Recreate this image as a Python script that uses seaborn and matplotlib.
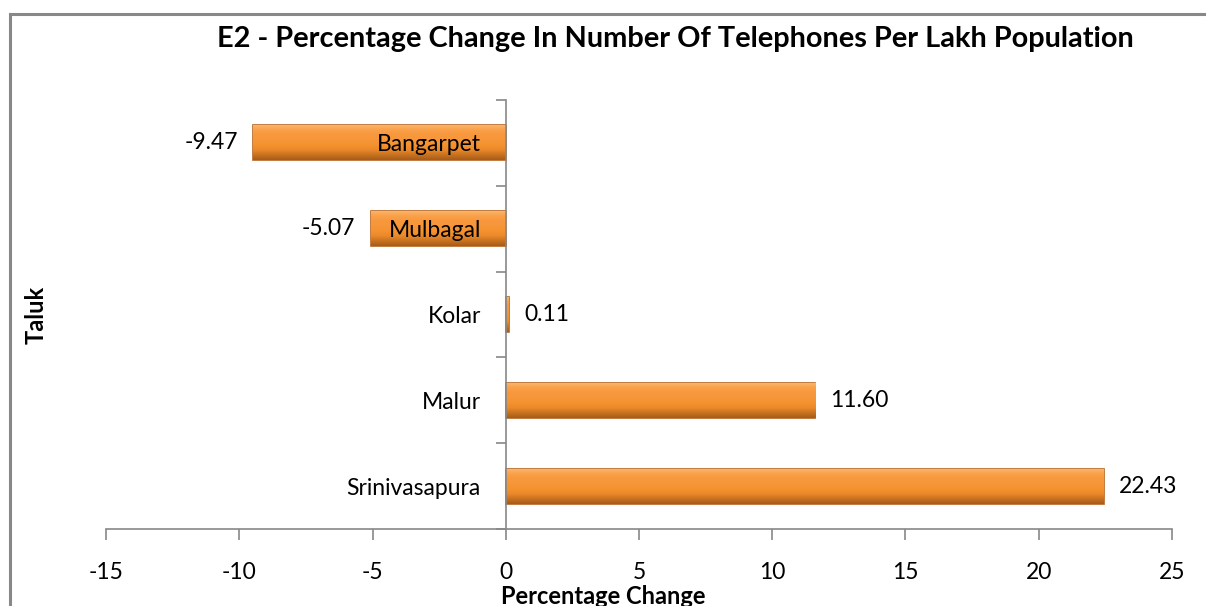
import matplotlib
matplotlib.use("Agg")
import numpy as np
import matplotlib.pyplot as plt
import seaborn as sns
import pandas as pd
from matplotlib.patches import Rectangle
from matplotlib.colors import LinearSegmentedColormap
from matplotlib.ticker import FixedLocator

taluks = ["Bangarpet", "Mulbagal", "Kolar", "Malur", "Srinivasapura"]
change = [-9.47, -5.07, 0.11, 11.60, 22.43]
x_ticks = [-15, -10, -5, 0, 5, 10, 15, 20, 25]

df = pd.DataFrame({"Taluk": taluks, "Change": change})

sns.set_style("white", {"text.color": "black", "xtick.color": "black",
                        "ytick.color": "black", "axes.axisbelow": False})
plt.rcParams["font.family"] = ["Lato", "DejaVu Sans"]

fig = plt.figure(figsize=(12.06, 6.06), dpi=100)
ax = fig.add_axes([0.0879, 0.127, 0.8839, 0.708])
ax.set_axisbelow(False)

sns.barplot(data=df, x="Change", y="Taluk", orient="h", ax=ax,
            color="#F7963A", edgecolor="#B8661E", linewidth=1.2,
            width=0.41, saturation=1)

for c in ax.containers:
    ax.bar_label(c, fmt="%.2f", padding=11, fontsize=16.5, color="black")

ax.set_xlim(-15, 25)
ax.set_ylim(4.5, -0.5)

# orange gradient fill to imitate the bevelled bars
grad = LinearSegmentedColormap.from_list(
    "bar", ["#FBB870", "#F9A24C", "#F8983C", "#F7963A", "#F5932F",
            "#EC8A2C", "#C9731F", "#A85C1A"])
for p in ax.patches:
    x0, y0 = p.get_x(), p.get_y()
    w, h = p.get_width(), p.get_height()
    im = ax.imshow(np.linspace(0, 1, 64).reshape(-1, 1), cmap=grad,
                   extent=[x0, x0 + w, y0 + h, y0], aspect="auto",
                   origin="upper", zorder=p.get_zorder() + 0.1)
    im.set_clip_path(p)
ax.set_xlim(-15, 25)
ax.set_ylim(4.5, -0.5)
ax.set_aspect("auto")

ax.set_xticks(x_ticks)
ax.set_xticklabels([str(t) for t in x_ticks], fontsize=16.5)

# y axis sits at x = 0, labels next to it, ticks between categories
ax.spines["left"].set_position(("data", 0))
for s in ["top", "right"]:
    ax.spines[s].set_visible(False)
for s in ["left", "bottom"]:
    ax.spines[s].set_color("#888888")
    ax.spines[s].set_linewidth(1.2)

ax.yaxis.set_major_locator(FixedLocator([-0.5, 0.5, 1.5, 2.5, 3.5, 4.5]))
ax.yaxis.set_minor_locator(FixedLocator(range(len(taluks))))
ax.set_yticklabels([""] * 6)
ax.set_yticklabels(taluks, minor=True, fontsize=16.5)
ax.tick_params(axis="y", which="major", left=True, direction="out", length=7,
               color="#888888", width=1.2)
ax.tick_params(axis="y", which="minor", left=True, length=0, pad=18,
               labelcolor="black")
ax.tick_params(axis="x", bottom=True, direction="out", length=8, color="#888888",
               width=1.2, pad=16, labelcolor="black")
ax.yaxis.set_zorder(5)

ax.set_xlabel("")
ax.set_ylabel("")
fig.text(0.5, 0.016, "Percentage Change", ha="center", va="center",
         fontsize=17, fontweight="bold")
fig.text(0.03, 0.48, "Taluk", ha="center", va="center", rotation=90,
         fontsize=17, fontweight="bold")
fig.text(0.56, 0.935, "E2 - Percentage Change In Number Of Telephones Per Lakh Population",
         ha="center", va="center", fontsize=20.8, fontweight="bold")

fig.patches.append(Rectangle((0.0083, -0.05), 1.05, 1.027, transform=fig.transFigure,
                             fill=False, edgecolor="#888888", linewidth=2.2))

fig.savefig("out.png", dpi=100)
